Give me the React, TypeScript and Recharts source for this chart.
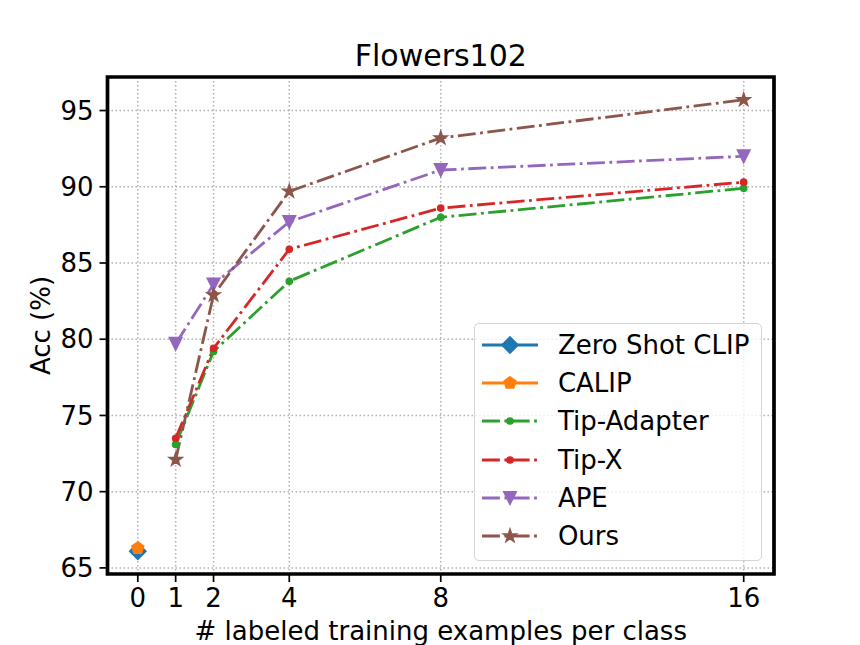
import React from 'react';
import { LineChart, Line, XAxis, YAxis, CartesianGrid, ReferenceArea, Legend } from 'recharts';

// values
const shots = [1, 2, 4, 8, 16];
const tipAdapterAcc = [73.1, 79.2, 83.8, 88.0, 89.9];
const tipXAcc = [73.5, 79.4, 85.9, 88.6, 90.3];
const apeAcc = [79.7, 83.6, 87.7, 91.1, 92.0];
const oursAcc = [72.1, 82.9, 89.7, 93.2, 95.7];
const zeroShotClipAcc = [66.1];
const calipAcc = [66.3];
const zeroShotX = [0];

const xTicks = [0, 1, 2, 4, 8, 16];
const yTicks = [65, 70, 75, 80, 85, 90, 95];
const xDomain = [-0.8, 16.8];
const yDomain = [64.6, 97.2];

const FONT = '"DejaVu Sans", "Liberation Sans", sans-serif';
const DASH_DOT = '17.9 4.5 2.8 4.5';

type Shape = 'diamond' | 'pentagon' | 'point' | 'triangleDown' | 'star';

const toPoints = (xs: number[], ys: number[]) => xs.map((x, i) => ({ x, y: ys[i] }));

const series = [
  { name: 'Zero Shot CLIP', color: '#1f77b4', shape: 'diamond' as Shape, dashed: false, data: toPoints(zeroShotX, zeroShotClipAcc) },
  { name: 'CALIP', color: '#ff7f0e', shape: 'pentagon' as Shape, dashed: false, data: toPoints(zeroShotX, calipAcc) },
  { name: 'Tip-Adapter', color: '#2ca02c', shape: 'point' as Shape, dashed: true, data: toPoints(shots, tipAdapterAcc) },
  { name: 'Tip-X', color: '#d62728', shape: 'point' as Shape, dashed: true, data: toPoints(shots, tipXAcc) },
  { name: 'APE', color: '#9467bd', shape: 'triangleDown' as Shape, dashed: true, data: toPoints(shots, apeAcc) },
  { name: 'Ours', color: '#8c564b', shape: 'star' as Shape, dashed: true, data: toPoints(shots, oursAcc) },
];

const polygon = (cx: number, cy: number, r: number, n: number, startDeg: number) => {
  const pts: string[] = [];
  for (let i = 0; i < n; i++) {
    const a = ((startDeg + (360 / n) * i) * Math.PI) / 180;
    pts.push(`${cx + r * Math.cos(a)},${cy + r * Math.sin(a)}`);
  }
  return pts.join(' ');
};

const starPoints = (cx: number, cy: number, ro: number, ri: number) => {
  const pts: string[] = [];
  for (let i = 0; i < 10; i++) {
    const r = i % 2 === 0 ? ro : ri;
    const a = ((-90 + 36 * i) * Math.PI) / 180;
    pts.push(`${cx + r * Math.cos(a)},${cy + r * Math.sin(a)}`);
  }
  return pts.join(' ');
};

const Marker = ({ cx, cy, shape, color }: { cx: number; cy: number; shape: Shape; color: string }) => {
  const common = { fill: color, stroke: color, strokeWidth: 1.9, strokeLinejoin: 'miter' as const };
  if (shape === 'diamond') {
    const h = 7.9;
    return <polygon points={`${cx},${cy - h} ${cx + h},${cy} ${cx},${cy + h} ${cx - h},${cy}`} {...common} />;
  }
  if (shape === 'pentagon') return <polygon points={polygon(cx, cy, 6, 5, -90)} {...common} />;
  if (shape === 'point') return <circle cx={cx} cy={cy} r={2.9} {...common} />;
  if (shape === 'triangleDown') {
    const s = 6;
    return <polygon points={`${cx},${cy + s} ${cx - s},${cy - s} ${cx + s},${cy - s}`} {...common} />;
  }
  return <polygon points={starPoints(cx, cy, 6.2, 2.4)} {...common} />;
};

const renderLegend = () => (
  <div
    style={{
      boxSizing: 'border-box',
      width: 288,
      height: 238,
      border: '1.5px solid #d4d4d4',
      borderRadius: 5,
      background: 'rgba(255,255,255,0.8)',
      paddingTop: 1.5,
      fontFamily: FONT,
      fontSize: 26,
      color: '#000',
    }}
  >
    {series.map(s => (
      <div key={s.name} style={{ height: 38.3, display: 'flex', alignItems: 'center' }}>
        <svg width={56} height={24} style={{ marginLeft: 7.2, marginRight: 19.7, overflow: 'visible' }}>
          <line
            x1={0}
            y1={12}
            x2={56}
            y2={12}
            stroke={s.color}
            strokeWidth={2.8}
            strokeDasharray={s.dashed ? DASH_DOT : undefined}
          />
          <Marker cx={28} cy={12} shape={s.shape} color={s.color} />
        </svg>
        <span style={{ whiteSpace: 'nowrap', lineHeight: '30px' }}>{s.name}</span>
      </div>
    ))}
  </div>
);

export default function App() {
  return (
    <div style={{ position: 'relative', width: 860, height: 645, background: '#fff' }}>
      <style>{'body{margin:0;background:#fff;}'}</style>
      <div
        style={{
          position: 'absolute',
          left: 440.8,
          top: 40.6,
          transform: 'translateX(-50%)',
          fontFamily: FONT,
          fontSize: 30,
          lineHeight: '30px',
          whiteSpace: 'nowrap',
          color: '#000',
        }}
      >
        Flowers102
      </div>
      <LineChart width={860} height={645} margin={{ top: 77, right: 86, bottom: 0, left: 0 }}>
        <CartesianGrid stroke="#b0b0b0" strokeWidth={1.5} strokeDasharray="1.5 2.5" />
        <XAxis
          type="number"
          dataKey="x"
          domain={xDomain}
          ticks={xTicks}
          interval={0}
          allowDataOverflow
          height={71}
          axisLine={false}
          tickLine={{ stroke: '#000', strokeWidth: 1.7 }}
          tickSize={8}
          tickMargin={6.5}
          tick={{ fill: '#000', fontSize: 26, fontFamily: FONT }}
          label={{
            value: '# labeled training examples per class',
            position: 'insideBottom',
            offset: 5,
            fill: '#000',
            fontSize: 26,
            fontFamily: FONT,
          }}
        />
        <YAxis
          type="number"
          domain={yDomain}
          ticks={yTicks}
          interval={0}
          allowDataOverflow
          width={107.5}
          axisLine={false}
          tickLine={{ stroke: '#000', strokeWidth: 1.7 }}
          tickSize={8}
          tickMargin={6}
          tick={{ fill: '#000', fontSize: 26, fontFamily: FONT }}
          label={{
            value: 'Acc (%)',
            angle: -90,
            position: 'center',
            dx: -12.75,
            fill: '#000',
            fontSize: 26,
            fontFamily: FONT,
          }}
        />
        {series.map(s => (
          <Line
            key={s.name}
            data={s.data}
            dataKey="y"
            name={s.name}
            type="linear"
            stroke={s.color}
            strokeWidth={2.8}
            strokeDasharray={s.dashed ? DASH_DOT : undefined}
            isAnimationActive={false}
            dot={(p: any) => (
              <Marker key={`${s.name}-${p.index}`} cx={p.cx} cy={p.cy} shape={s.shape} color={s.color} />
            )}
            activeDot={false}
          />
        ))}
        <ReferenceArea
          x1={xDomain[0]}
          x2={xDomain[1]}
          y1={yDomain[0]}
          y2={yDomain[1]}
          fill="none"
          fillOpacity={0}
          stroke="#000"
          strokeWidth={3.7}
          strokeOpacity={1}
          ifOverflow="visible"
        />
        <Legend
          layout="vertical"
          align="center"
          verticalAlign="middle"
          content={renderLegend}
          wrapperStyle={{ left: 474, top: 323, width: 288, height: 238 }}
        />
      </LineChart>
    </div>
  );
}
